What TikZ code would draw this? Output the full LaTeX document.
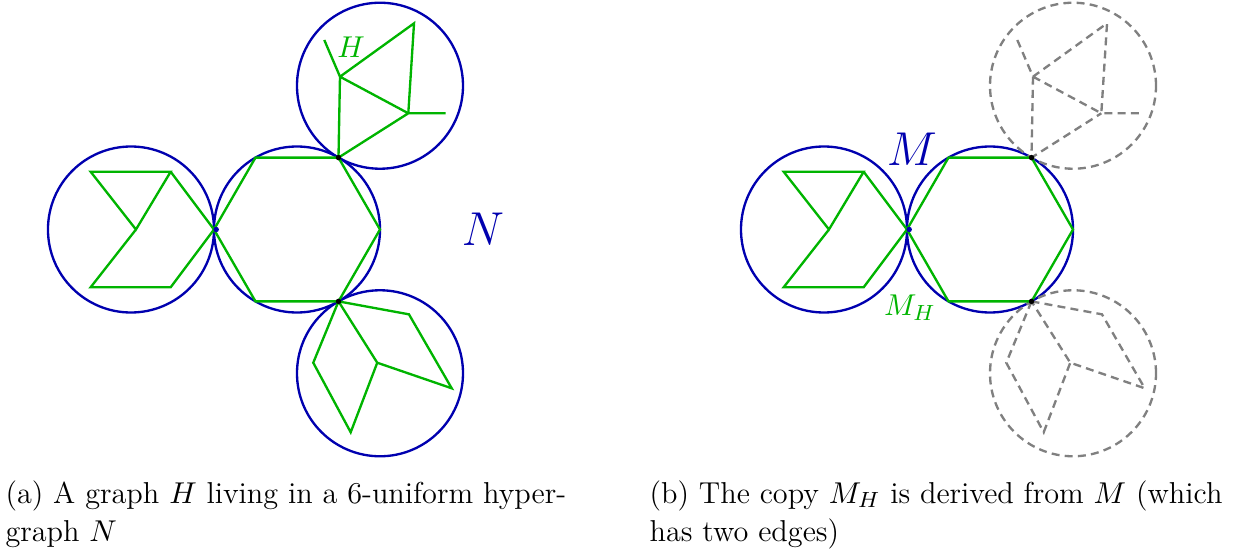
\documentclass[tikz,border=0pt]{standalone}
\usepackage{amsmath,amssymb}
\usepackage{tikz}
\usetikzlibrary{calc}
\usepackage{xcolor}
\definecolor{hblue}{RGB}{0,0,175}
\definecolor{hgreen}{RGB}{0,180,0}
\tikzset{
  hcircle/.style={draw=hblue,line width=0.85pt},
  hedge/.style={draw=hgreen,line width=0.85pt},
  ghost/.style={draw=gray,line width=0.85pt,dash pattern=on 2.9pt off 1.9pt},
  touch/.style={circle,fill=black,inner sep=0pt,minimum size=2pt},
  lbl/.style={font=\fontsize{11}{14}\selectfont},
  biglbl/.style={font=\fontsize{17.28}{21}\selectfont},
  subcap/.style={lbl,align=left,anchor=base west,inner sep=0pt},
}
\begin{document}
\begin{tikzpicture}[x=30.18pt,y=30.18pt]
\useasboundingbox (-3.578,-3.970) rectangle (11.361,2.765);

\foreach \p/\dx/\ocirc/\oedge in {a/0/hcircle/hedge, b/8.349/ghost/ghost}{
  \begin{scope}[shift={(\dx,0)},name prefix=\p-]
    \foreach \k in {0,...,5} \coordinate (h\k) at (60*\k:1);
    \coordinate (l1) at (-2.486,0.696);
    \coordinate (l2) at (-1.522,0.696);
    \coordinate (l3) at (-1.940,0);
    \coordinate (l4) at (-2.486,-0.696);
    \coordinate (l5) at (-1.522,-0.696);
    \coordinate (t1) at (0.329,2.283);
    \coordinate (t2) at (0.518,1.841);
    \coordinate (t3) at (1.410,2.484);
    \coordinate (t4) at (1.341,1.400);
    \coordinate (t5) at (1.792,1.400);
    \coordinate (b1) at (1.349,-1.022);
    \coordinate (b2) at (1.864,-1.913);
    \coordinate (b3) at (0.967,-1.605);
    \coordinate (b4) at (0.196,-1.605);
    \coordinate (b5) at (0.647,-2.443);

    \draw[hcircle] (-2,0) circle (1) (0,0) circle (1);
    \draw[\ocirc] (60:2) circle (1) (-60:2) circle (1);

    \draw[hedge] (h0) -- (h1) -- (h2) -- (h3) -- (h4) -- (h5) -- cycle;
    \draw[hedge] (l1) -- (l2) -- (l3) -- cycle (l3) -- (l4) -- (l5) -- (h3) -- (l2);
    \draw[\oedge] (t1) -- (t2) -- (t3) -- (t4) -- (t5) (t2) -- (t4) (t2) -- (h1) -- (t4);
    \draw[\oedge] (h5) -- (b1) -- (b2) -- (b3) -- cycle (h5) -- (b4) -- (b5) -- (b3);

    \node[touch,fill=hblue] (dl) at ([xshift=0.8pt]h3) {};
    \node[touch] (dt) at (h1) {};
    \node[touch] (db) at (h5) {};
  \end{scope}
}

\node[lbl,text=hgreen] (lblH) at (0.651,2.202) {$H$};
\node[biglbl,text=hblue] (lblN) at (2.241,0) {$N$};
\node[biglbl,text=hblue] (lblM) at (7.409,0.964) {$M$};
\node[lbl,text=hgreen] (lblMH) at (7.385,-0.94) {$M_H$};

\node[subcap] (capa) at (-3.518,-3.761) {(a) A graph $H$ living in a 6-uniform hyper-\\graph $N$};
\node[subcap] (capb) at (4.241,-3.761) {(b) The copy $M_H$ is derived from $M$ (which\\has two edges)};
\end{tikzpicture}
\end{document}
